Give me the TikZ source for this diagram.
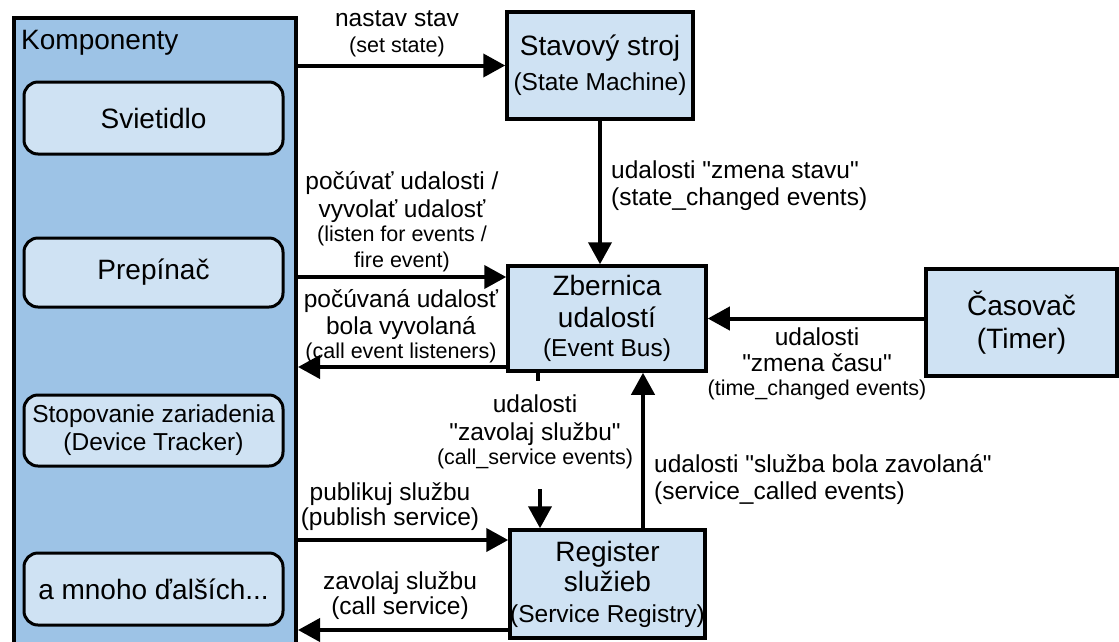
\documentclass[tikz,border=0pt]{standalone}
\usepackage{fontspec}
\setmainfont{Liberation Sans}[Ligatures=TeXOff]
\usetikzlibrary{arrows.meta}
\definecolor{outerblue}{RGB}{157,195,230}
\definecolor{innerblue}{RGB}{207,226,243}
\newcommand{\fbg}{\fontsize{28}{31}\selectfont}
\newcommand{\fmd}{\fontsize{24.5}{28}\selectfont}
\newcommand{\fsm}{\fontsize{21.5}{24}\selectfont}
\begin{document}
\begin{tikzpicture}[x=1pt,y=-1pt,
 box/.style={draw,line width=3.5pt,fill=innerblue,inner sep=0pt,align=center,font=\fbg},
 compbox/.style={draw,line width=3pt,fill=innerblue,rounded corners=14pt,minimum width=259pt,align=center,inner sep=0pt},
 arr/.style={line width=4pt,-{Triangle[length=22pt,width=23pt]}},
 lbl/.style={align=center,inner sep=0pt,font=\fmd},
 lbll/.style={align=left,inner sep=0pt,font=\fmd}]
\useasboundingbox (0,0) rectangle (1119,641);
% outer component box
\node[draw,line width=4pt,fill=outerblue,minimum width=282pt,minimum height=680pt,anchor=north west,inner sep=0pt] (komp) at (12,16) {};
\node[anchor=west,inner sep=0pt,font=\fbg] (kompt) at (21,43) {Komponenty};
\node[compbox,minimum height=72pt,font=\fbg] (sviet) at (153.5,118) {Svietidlo};
\node[compbox,minimum height=69pt,font=\fbg] (prep) at (153.5,272.5) {Prepínač};
\node[compbox,minimum height=71pt,font=\fmd] (track) at (153.5,430.5) {Stopovanie zariadenia\\[0pt](Device Tracker)};
\node[compbox,minimum height=72pt,font=\fbg] (more) at (153.5,589) {a mnoho ďalších...};
% main boxes
\node[box,minimum width=186pt,minimum height=107pt] (stav) at (600,65.5) {Stavový stroj\\[4pt]{\fmd (State Machine)}};
\node[box,minimum width=198pt,minimum height=105pt] (bus) at (607,318.5) {Zbernica\\[1pt]udalostí\\[-2pt]{\fmd (Event Bus)}};
\node[box,minimum width=195pt,minimum height=108pt] (reg) at (607.5,584) {Register\\[-1pt]služieb\\[0pt]{\fmd (Service Registry)}};
\node[box,minimum width=191pt,minimum height=107pt] (timer) at (1021.5,322.5) {Časovač\\[2pt](Timer)};
% arrows
\draw[arr] (komp.east |- stav.west) -- (stav.west);
\draw[arr] (stav.south) -- (stav.south |- bus.north);
\draw[arr] (komp.east |- 0,277) -- (bus.west |- 0,277);
\draw[arr] (bus.west |- 0,367) -- (komp.east |- 0,367);
\draw[arr] (timer.west |- bus.east) -- (bus.east);
\coordinate (stubend) at (538,381);
\draw[line width=4pt] (bus.south -| stubend) -- (stubend);
\coordinate (csstart) at (540,489);
\draw[arr] (csstart) -- (csstart |- reg.north);
\coordinate (scx) at (643,0);
\draw[arr] (reg.north -| scx) -- (bus.south -| scx);
\draw[arr] (komp.east |- 0,540) -- (reg.west |- 0,540);
\draw[arr] (reg.west |- 0,630) -- (komp.east |- 0,630);
% labels
\node[lbl] (setl) at (397,34) {nastav stav\\[-2pt]{\fsm (set state)}};
\node[lbll,anchor=west] (statel) at (611,186) {udalosti "zmena stavu"\\[-1pt](state\_changed events)};
\node[lbl] (listenl) at (402,222) {počúvať udalosti /\\[0pt]vyvolať udalosť\\[-4pt]{\fsm (listen for events /}\\[-2pt]{\fsm fire event)}};
\node[lbl] (calll) at (401,326) {počúvaná udalosť\\[-1pt]bola vyvolaná\\[-4pt]{\fsm (call event listeners)}};
\node[lbl] (timel) at (817,364) {udalosti\\[-2pt]"zmena času"\\[-4pt]{\fsm (time\_changed events)}};
\node[lbl] (csl) at (535,432) {udalosti\\[0pt]"zavolaj službu"\\[-4pt]{\fsm (call\_service events)}};
\node[lbll,anchor=west] (scl) at (654,480) {udalosti "služba bola zavolaná"\\[-1pt](service\_called events)};
\node[lbl] (publ) at (390,507) {publikuj službu\\[-3pt](publish service)};
\node[lbl] (csvl) at (400,596) {zavolaj službu\\[-3pt](call service)};
\end{tikzpicture}
\end{document}
